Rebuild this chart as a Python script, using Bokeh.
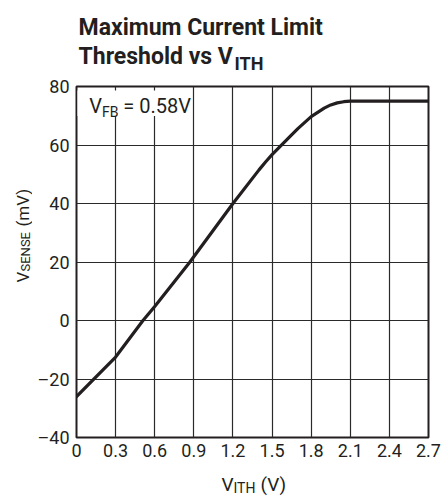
import math
from bokeh.plotting import figure
from bokeh.layouts import column, row
from bokeh.models import Range1d, FixedTicker, Label, BoxAnnotation
from bokeh.embed import file_html
from bokeh.resources import INLINE

# ---- data ----
vith = [0.0, 0.3, 0.51, 0.6, 0.87, 1.2, 1.4, 1.45, 1.5, 1.57, 1.65, 1.7, 1.8, 1.9, 1.95, 2.0, 2.05, 2.1, 2.4, 2.7]
vsense = [-26.0, -12.5, 0.0, 4.8, 20.0, 40.0, 51.5, 54.2, 56.7, 59.9, 63.5, 65.7, 69.7, 72.6, 73.7, 74.4, 74.8, 75.0, 75.0, 75.0]

x_ticks = [0, 0.3, 0.6, 0.9, 1.2, 1.5, 1.8, 2.1, 2.4, 2.7]
x_tick_labels = ["0", "0.3", "0.6", "0.9", "1.2", "1.5", "1.8", "2.1", "2.4", "2.7"]
y_ticks = [-40, -20, 0, 20, 40, 60, 80]
y_tick_labels = ["\u201340", "\u201320", "0", "20", "40", "60", "80"]

title_line1 = "Maximum Current Limit"
title_line2 = "Threshold vs V"
title_sub = "ITH"
annot_main, annot_sub, annot_rest = "V", "FB", "= 0.58V"
xlab_main, xlab_sub, xlab_rest = "V", "ITH", "(V)"
ylab_main, ylab_sub, ylab_rest = "V", "SENSE", "(mV)"

FONT = "Roboto"
INK = "#231f20"
TOTAL_W = 441
TITLE_H = 74
YLAB_W = 32
MAIN_H = 394
XLAB_H = 28
DESC = 0.25  # fraction of font size the label baseline lands below its anchor


def blank(width, height):
    f = figure(width=width, height=height, output_backend="svg", toolbar_location=None,
               title=None, x_axis_type=None, y_axis_type=None,
               x_range=Range1d(0, 1), y_range=Range1d(0, 1),
               min_border=0, min_border_left=0, min_border_right=0,
               min_border_top=0, min_border_bottom=0)
    f.outline_line_color = None
    f.background_fill_color = "white"
    f.border_fill_color = "white"
    f.grid.visible = False
    return f


def lab(fig, text, x, y, size, bold=False, rotated=False):
    # x, y: wanted baseline start in the figure's frame (y up from the bottom)
    if rotated:
        x, angle = x - DESC * size, math.pi / 2
    else:
        y, angle = y + DESC * size, 0.0
    fig.add_layout(Label(x=x, y=y, x_units="screen", y_units="screen", text=text,
                         text_font=FONT, text_font_size=f"{size}px",
                         text_font_style="bold" if bold else "normal",
                         text_color=INK, text_align="left", text_baseline="alphabetic",
                         angle=angle))


# ---- title strip (page y 0..74) ----
title_fig = blank(TOTAL_W, TITLE_H)
lab(title_fig, title_line1, 78, TITLE_H - 32.3, 23, bold=True)
lab(title_fig, title_line2, 78, TITLE_H - 61.7, 23, bold=True)
lab(title_fig, title_sub, 234, TITLE_H - 67, 18, bold=True)

# ---- y label strip ----
ylab_fig = blank(YLAB_W, MAIN_H)
ybot = TITLE_H + MAIN_H
lab(ylab_fig, ylab_main, 27, ybot - 313, 17, rotated=True)
lab(ylab_fig, ylab_sub, 28, ybot - 302, 13, rotated=True)
lab(ylab_fig, ylab_rest, 27, ybot - 257, 17, rotated=True)

# ---- main plot ----
p = figure(width=TOTAL_W - YLAB_W, height=MAIN_H, output_backend="svg", toolbar_location=None,
           title=None, x_range=Range1d(0, 2.7), y_range=Range1d(-40, 80),
           min_border_left=76 - YLAB_W, min_border_right=TOTAL_W - 428,
           min_border_top=86 - TITLE_H, min_border_bottom=MAIN_H - (437 - TITLE_H))
p.background_fill_color = "white"
p.border_fill_color = "white"
p.outline_line_color = INK
p.outline_line_width = 2

p.line(vith, vsense, line_color=INK, line_width=3.2, line_join="round", line_cap="round")

for ax in (p.xaxis[0], p.yaxis[0]):
    ax.axis_line_color = None
    ax.major_tick_line_color = None
    ax.minor_tick_line_color = None
    ax.major_tick_out = 0
    ax.major_tick_in = 0
    ax.minor_tick_out = 0
    ax.minor_tick_in = 0
    ax.major_label_text_font = FONT
    ax.major_label_text_font_size = "18px"
    ax.major_label_text_color = INK

p.xaxis[0].ticker = FixedTicker(ticks=x_ticks)
p.xaxis[0].major_label_overrides = {t: l for t, l in zip(x_ticks, x_tick_labels)}
p.xaxis[0].major_label_standoff = 6

p.yaxis[0].ticker = FixedTicker(ticks=y_ticks)
p.yaxis[0].major_label_overrides = {t: l for t, l in zip(y_ticks, y_tick_labels)}
p.yaxis[0].major_label_standoff = 7

p.xgrid[0].ticker = FixedTicker(ticks=x_ticks)
p.ygrid[0].ticker = FixedTicker(ticks=y_ticks)
for g in (p.xgrid[0], p.ygrid[0]):
    g.grid_line_color = "#2a2a2a"
    g.grid_line_width = 1.2

p.add_layout(BoxAnnotation(left=1, right=106, top=347, bottom=321.5,
                           left_units="screen", right_units="screen",
                           top_units="screen", bottom_units="screen",
                           fill_color="white", fill_alpha=1.0, line_color=None))
lab(p, annot_main, 12.7, 326.3, 20)
lab(p, annot_sub, 25.5, 322.3, 14)
lab(p, annot_rest, 46.7, 326.3, 20)

# ---- x label strip ----
xlab_fig = blank(TOTAL_W, XLAB_H)
xbot = TITLE_H + MAIN_H + XLAB_H
lab(xlab_fig, xlab_main, 221, xbot - 489, 19)
lab(xlab_fig, xlab_sub, 233, xbot - 491, 14)
lab(xlab_fig, xlab_rest, 260, xbot - 489, 19)

layout = column(title_fig, row(ylab_fig, p), xlab_fig)

open("out.html", "w").write(file_html(layout, INLINE))
